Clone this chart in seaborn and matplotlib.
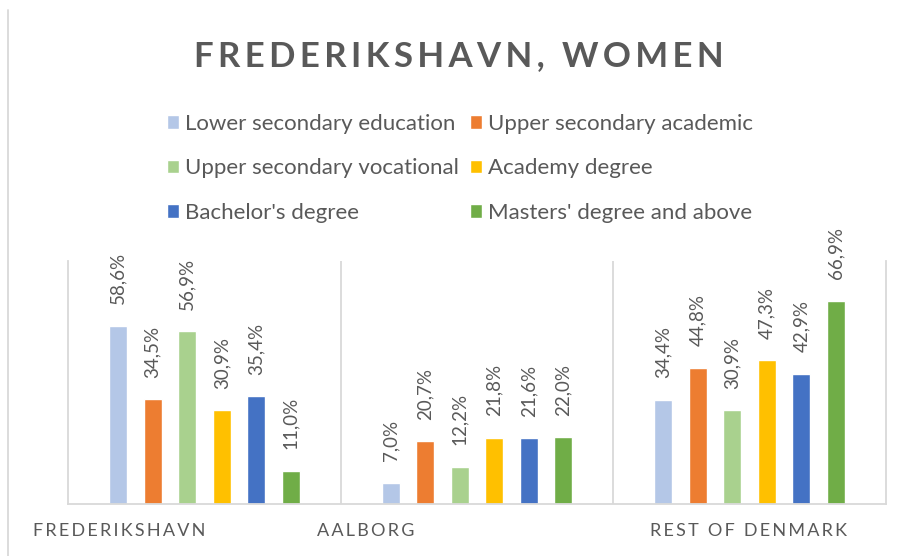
import matplotlib
matplotlib.use("Agg")
import matplotlib.pyplot as plt
import pandas as pd
import seaborn as sns
from matplotlib.lines import Line2D

# chart data (percent of women)
regions = ["Frederikshavn", "Aalborg", "Rest of Denmark"]
levels = ["Lower secondary education", "Upper secondary academic",
          "Upper secondary vocational", "Academy degree",
          "Bachelor's degree", "Masters' degree and above"]
frederikshavn = [58.6, 34.5, 56.9, 30.9, 35.4, 11.0]
aalborg = [7.0, 20.7, 12.2, 21.8, 21.6, 22.0]
rest_of_denmark = [34.4, 44.8, 30.9, 47.3, 42.9, 66.9]
colors = ["#B4C7E7", "#ED7D31", "#A9D18E", "#FFC000", "#4472C4", "#70AD47"]

TEXT = "#595959"
GRID = "#D9D9D9"
FONT = ["Lato", "DejaVu Sans"]


def spaced(s, sep="\u2009"):
    # fake letter spacing with thin spaces
    return sep.join(s)


rows = []
for region, vals in zip(regions, [frederikshavn, aalborg, rest_of_denmark]):
    for lvl, v in zip(levels, vals):
        rows.append({"region": region, "level": lvl, "value": v})
df = pd.DataFrame(rows)

sns.set_style("white")
plt.rcParams["font.family"] = FONT

fig = plt.figure(figsize=(9.06, 5.56), dpi=100)
ax = fig.add_axes([68 / 906, 52 / 556, (886 - 68) / 906, (504 - 261) / 556])

sns.barplot(data=df, x="region", y="value", hue="level", hue_order=levels,
            palette=colors, width=0.76, gap=0.48, saturation=1, ax=ax)

ax.set_xlim(-0.5, 2.5)
ax.set_ylim(0, 80)
ax.set_yticks([])
ax.set_xticks([])
ax.set_xticks([0.5, 1.5], minor=True)
ax.tick_params(which="both", length=0)
ax.grid(which="minor", axis="x", color=GRID, linewidth=1.3)
ax.set_xlabel("")
ax.set_ylabel("")
for side in ["left", "right", "bottom"]:
    ax.spines[side].set_color(GRID)
    ax.spines[side].set_linewidth(1.3)
ax.spines["top"].set_visible(False)

for cont in ax.containers:
    labels = [f"{b.get_height():.1f}%".replace(".", ",") for b in cont]
    ax.bar_label(cont, labels=labels, rotation=90, padding=15.5, color=TEXT,
                 fontsize=13.5)

# category labels (placed as in the original)
label_x = [-0.313, 0.592, 1.995]
for x, name in zip(label_x, regions):
    ax.text(x, -27 / 243 * 80, spaced(name.upper()), ha="center", va="center",
            color=TEXT, fontsize=13)

handles, labs = ax.get_legend_handles_labels()
ax.get_legend().remove()
# matplotlib fills legend columns first, the original goes row by row
order = [0, 2, 4, 1, 3, 5]
fig.legend([handles[i] for i in order], [labs[i] for i in order], ncol=2,
           loc="upper left", bbox_to_anchor=(167 / 906, 1 - 114 / 556),
           frameon=False, borderpad=0, borderaxespad=0, handlelength=0.55,
           handleheight=0.55, handletextpad=0.25, columnspacing=0.5,
           labelspacing=1.1, prop={"size": 16, "family": FONT},
           labelcolor=TEXT)

fig.text(459 / 906, 1 - 56 / 556, spaced("FREDERIKSHAVN, WOMEN"), ha="center",
         va="center", fontsize=25, fontweight="bold", color=TEXT)

fig.add_artist(Line2D([8 / 906, 8 / 906], [0, 1 - 10 / 556],
                      transform=fig.transFigure, color=GRID, linewidth=1.3))

fig.savefig("out.png", dpi=100)
